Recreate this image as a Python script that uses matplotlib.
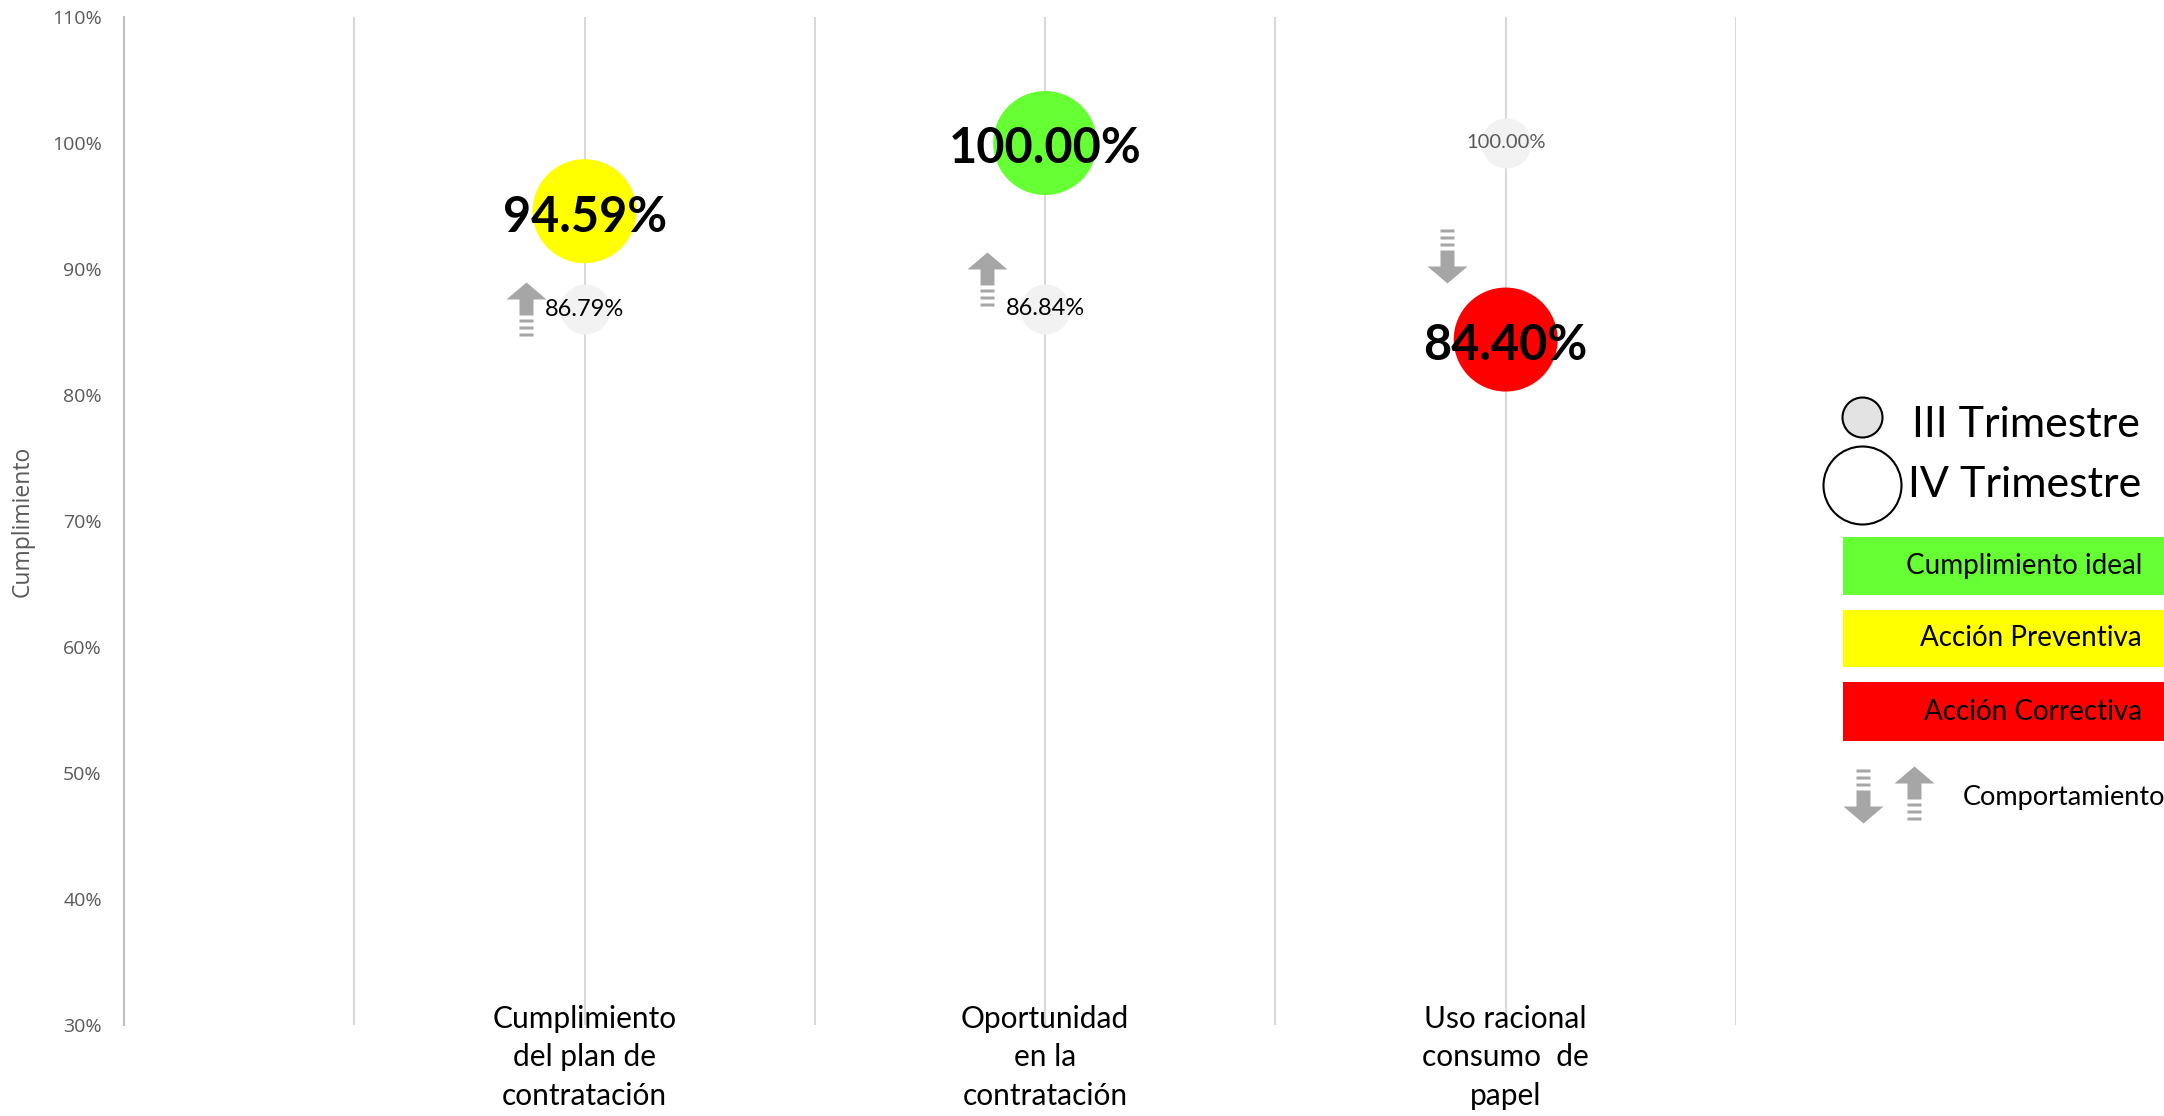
import numpy as np
import matplotlib.pyplot as plt
from matplotlib.path import Path
from matplotlib.patches import Rectangle
import matplotlib.transforms as mtransforms

plt.rcParams['font.family'] = ['Lato', 'DejaVu Sans']

categorias = ['Cumplimiento\ndel plan de\ncontratación',
              'Oportunidad\nen la\ncontratación',
              'Uso racional\nconsumo  de\npapel']
pos = [1, 2, 3]
trim_iii = [86.79, 86.84, 100.00]
trim_iv = [94.59, 100.00, 84.40]
colores_iv = ['#ffff00', '#66ff33', '#ff0000']
# flechas de comportamiento (posicion vertical y sentido)
flecha_y = [86.8, 89.2, 91.0]
flecha_sube = [True, True, False]

leyenda_cajas = ['Cumplimiento ideal', 'Acción Preventiva', 'Acción Correctiva']
leyenda_colores = ['#66ff33', '#ffff00', '#ff0000']

GRIS = '#a6a6a6'


def flecha(sube=True):
    # cabeza + cuerpo y tres rayas debajo
    v = [(0, 27), (20, 10), (7, 10), (7, -6), (-7, -6), (-7, 10), (-20, 10), (0, 27)]
    codes = [Path.MOVETO] + [Path.LINETO] * 6 + [Path.CLOSEPOLY]
    for y0, y1 in [(-10, -13), (-17, -20), (-24, -27)]:
        v += [(-7, y0), (7, y0), (7, y1), (-7, y1), (-7, y0)]
        codes += [Path.MOVETO, Path.LINETO, Path.LINETO, Path.LINETO, Path.CLOSEPOLY]
    v = np.array(v, float) / 54
    if not sube:
        v[:, 1] *= -1
    return Path(v, codes)


fig = plt.figure(figsize=(21.64, 11.16), dpi=100)
ax = fig.add_axes([124 / 2164, 1 - 1025 / 1116, 1612 / 2164, 1008 / 1116])

ax.set_xlim(0, 3.5)
ax.set_ylim(30, 110)
for s in ['top', 'right', 'bottom']:
    ax.spines[s].set_visible(False)
ax.spines['left'].set_color('#bfbfbf')
ax.spines['left'].set_linewidth(1.5)
ax.set_xticks(np.arange(0.5, 3.51, 0.5))
ax.set_xticklabels([])
ax.tick_params(axis='x', length=0)
ax.grid(axis='x', color='#d9d9d9', linewidth=1.5, zorder=0)
ax.set_axisbelow(True)

yt = np.arange(30, 111, 10)
ax.set_yticks(yt)
ax.set_yticklabels([f'{v}%' for v in yt], fontsize=14, color='#595959', family=['Open Sans', 'DejaVu Sans'])
ax.tick_params(axis='y', length=0, pad=16)
ax.set_ylabel('Cumplimiento', fontsize=16.5, color='#595959', family=['Open Sans', 'DejaVu Sans'])
ax.yaxis.set_label_coords(-0.0552, 0.5)

# III trimestre
ax.scatter(pos, trim_iii, s=50 ** 2 / 1.389 ** 2, color='#f2f2f2', zorder=3, linewidths=0)
for i, (x, v) in enumerate(zip(pos, trim_iii)):
    if i == 2:
        ax.text(x, v, f'{v:.2f}%', ha='center', va='center', fontsize=14.5, color='#595959', zorder=4)
    else:
        ax.text(x, v, f'{v:.2f}%', ha='center', va='center', fontsize=17, color='black', zorder=4)

# IV trimestre
ax.scatter(pos, trim_iv, s=104 ** 2 / 1.389 ** 2, color=colores_iv, zorder=3, linewidths=0)
baja = mtransforms.offset_copy(ax.transData, fig=fig, y=-6, units='dots')
for x, v in zip(pos, trim_iv):
    ax.text(x, v, f'{v:.2f}%', ha='center', va='center', fontsize=35, transform=baja,
            fontweight='bold', color='black', zorder=5)

# flechas
for x, y, sube in zip(pos, flecha_y, flecha_sube):
    ax.scatter([x - 0.127], [y], marker=flecha(sube), s=(54 / 1.389) ** 2,
               color=GRIS, linewidths=0, zorder=4)

# etiquetas de categoria
trans = mtransforms.blended_transform_factory(ax.transData, ax.transAxes)
for x, c in zip(pos, categorias):
    ax.text(x, 0.02, c, transform=trans, ha='center', va='top', fontsize=21.5,
            linespacing=1.45, color='black', zorder=6)

# leyenda
lax = fig.add_axes([0, 0, 1, 1], zorder=10)
lax.set_xlim(0, 2164)
lax.set_ylim(1116, 0)
lax.axis('off')

lax.scatter([1862], [417], s=(40 / 1.389) ** 2, facecolor='#e3e3e3', edgecolor='black', linewidths=1.5)
lax.text(1912, 425, 'III Trimestre', fontsize=31, va='center', ha='left')
lax.scatter([1862], [485], s=(78 / 1.389) ** 2, facecolor='white', edgecolor='black', linewidths=1.5)
lax.text(1908, 485, 'IV Trimestre', fontsize=31, va='center', ha='left')

cajas_y = [(537, 595), (610, 667), (682, 741)]
for (y0, y1), txt, col in zip(cajas_y, leyenda_cajas, leyenda_colores):
    lax.add_patch(Rectangle((1843, y0), 2164 - 1843, y1 - y0, facecolor=col, edgecolor='none'))
    lax.text(2142, (y0 + y1) / 2, txt, fontsize=20, ha='right', va='center')

lax.scatter([1863], [796], marker=flecha(False), s=(54 / 1.389) ** 2, color=GRIS, linewidths=0)
lax.scatter([1914], [793], marker=flecha(True), s=(54 / 1.389) ** 2, color=GRIS, linewidths=0)
lax.text(1963, 798, 'Comportamiento', fontsize=19.5, ha='left', va='center')

fig.savefig('out.png', dpi=100)
